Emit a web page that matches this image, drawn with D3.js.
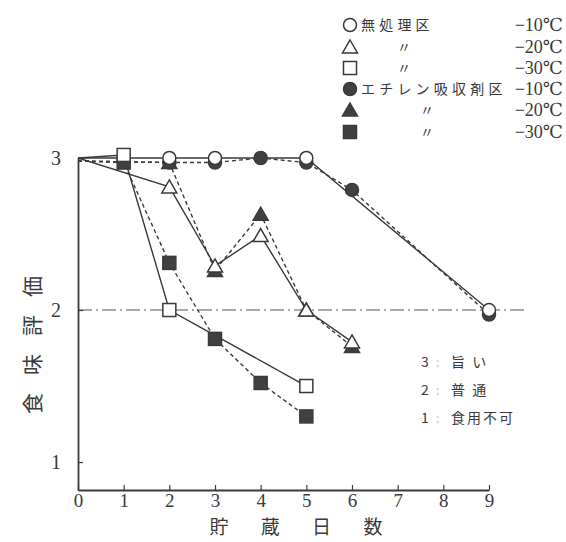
<!DOCTYPE html>
<html><head><meta charset="utf-8">
<script src="https://cdn.jsdelivr.net/npm/d3@7"></script>
<style>body{margin:0;background:#fff}svg{display:block}</style>
</head><body><svg id="c" width="566" height="542"></svg>
<script>
// ---- data ----
const days = [0,1,2,3,4,5,6,7,8,9];
const yTicks = [1,2,3];
const xLabel = "貯 蔵 日 数";
const yLabel = "食味評価";
// untreated (無処理区), solid lines, open markers
const ctrl10 = [[0,3],[2,3],[3,3],[5,3],[9,2]];
const ctrl20 = [[0,3],[2,2.81],[3,2.29],[4,2.49],[5,2.0],[6,1.79]];
const ctrl30 = [[0,3],[1,3.02],[2,2.0],[5,1.5]];
// ethylene absorber (エチレン吸収剤区), dashed lines, filled markers
const eth10 = [[0,2.98],[2,2.97],[3,2.97],[4,3],[5,2.97],[6,2.79],[9,1.97]];
const eth20 = [[0,2.98],[2,2.97],[3,2.26],[4,2.63],[5,2.0],[6,1.76]];
const eth30 = [[0,2.98],[1,2.97],[2,2.31],[3,1.81],[4,1.52],[5,1.3]];
const legendNames = ["無処理区","〃","〃","エチレン吸収剤区","〃","〃"];
const legendTemps = ["−10℃","−20℃","−30℃","−10℃","−20℃","−30℃"];
const ratingNums = ["3","2","1"];
const ratingText = ["旨 い","普 通","食用不可"];
const refLine = 2;

// ---- drawing ----
const svg = d3.select("#c");
const ink = "#3a3a3a";
const x = d3.scaleLinear().domain([0,9]).range([78,489]);
const y = d3.scaleLinear().domain([0.816,3]).range([490,158]);
const serif = "'Liberation Serif','DejaVu Serif',serif";
const jp = "'Noto Sans CJK JP',sans-serif";

// reference dash-dot line
svg.append("line").attr("x1",x(0)).attr("x2",x(9)+38).attr("y1",y(refLine)).attr("y2",y(refLine))
  .attr("stroke","#555").attr("stroke-width",1.2).attr("stroke-dasharray","14,4,2,4");

// axes
const xa = svg.append("g").attr("transform",`translate(0,${y.range()[0]})`)
  .call(d3.axisBottom(x).tickValues(days).tickSizeInner(-5).tickSizeOuter(0).tickPadding(3).tickFormat(d3.format("d")));
xa.selectAll("text").attr("font-family",serif).attr("font-size",19).attr("fill",ink);
const ya = svg.append("g").attr("transform",`translate(${x(0)},0)`)
  .call(d3.axisLeft(y).tickValues(yTicks).tickSizeInner(-5).tickSizeOuter(0).tickPadding(17).tickFormat(d3.format("d")));
ya.selectAll("text").attr("font-family",serif).attr("font-size",20).attr("fill",ink);
svg.selectAll(".domain").attr("stroke",ink).attr("stroke-width",1.8);
svg.selectAll(".tick line").attr("stroke",ink).attr("stroke-width",1.2);

// labels
svg.append("text").attr("x",303).attr("y",534).attr("text-anchor","middle")
  .attr("font-family",jp).attr("font-size",19).attr("fill",ink)
  .attr("style","letter-spacing:14px").text(xLabel);
svg.append("text").attr("transform","translate(40,336) rotate(-90)").attr("text-anchor","middle")
  .attr("font-family",jp).attr("font-size",21).attr("fill",ink)
  .attr("style","letter-spacing:18px").text(yLabel);

const line = d3.line().x(d=>x(d[0])).y(d=>y(d[1]));
function drawLine(data, dashed){
  svg.append("path").datum(data).attr("d",line).attr("fill","none").attr("stroke",ink)
    .attr("stroke-width",1.4).attr("stroke-dasharray",dashed?"4,3":null);
}
function marker(g, type, filled, cx, cy){
  const fill = filled ? "#404040" : "#fff";
  let el;
  if(type==="circle") el = g.append("circle").attr("cx",cx).attr("cy",cy).attr("r",6.5);
  else if(type==="square") el = g.append("rect").attr("x",cx-6.5).attr("y",cy-6.5).attr("width",13).attr("height",13);
  else el = g.append("path").attr("d",`M${cx},${cy-7}L${cx+7.5},${cy+6}L${cx-7.5},${cy+6}Z`);
  el.attr("fill",fill).attr("stroke",ink).attr("stroke-width",1.5);
}
function drawMarkers(data, type, filled){
  const g = svg.append("g");
  data.filter(d=>d[0]>0).forEach(d=>marker(g,type,filled,x(d[0]),y(d[1])));
}
drawLine(eth10,true); drawLine(eth20,true); drawLine(eth30,true);
drawLine(ctrl10,false); drawLine(ctrl20,false); drawLine(ctrl30,false);
drawMarkers(eth10,"circle",true); drawMarkers(eth20,"triangle",true); drawMarkers(eth30,"square",true);
drawMarkers(ctrl10,"circle",false); drawMarkers(ctrl20,"triangle",false); drawMarkers(ctrl30,"square",false);

// legend
const types = ["circle","triangle","square","circle","triangle","square"];
const rowsY = [25,47,68,89,110,132];
const lg = svg.append("g");
legendNames.forEach((n,i)=>{
  marker(lg, types[i], i>=3, 350, rowsY[i]);
  const isMark = n==="〃";
  lg.append("text").attr("x", isMark ? (i<3?397:420) : 361).attr("y",rowsY[i]+5)
    .attr("font-family",jp).attr("font-size",14).attr("fill",ink)
    .attr("style", isMark ? null : "letter-spacing:4.2px").text(n);
  lg.append("text").attr("x",563).attr("y",rowsY[i]+6).attr("text-anchor","end")
    .attr("font-family",serif).attr("font-size",18).attr("fill",ink).text(legendTemps[i]);
});

// rating note
const ry = [362,390,418];
ratingNums.forEach((n,i)=>{
  svg.append("text").attr("x",421).attr("y",ry[i]+5).attr("font-family",jp).attr("font-size",14).attr("fill",ink).text(n);
  svg.append("text").attr("x",436).attr("y",ry[i]+5).attr("font-family",jp).attr("font-size",12).attr("fill","#bbb").text(":");
  svg.append("text").attr("x",451).attr("y",ry[i]+5).attr("font-family",jp).attr("font-size",14).attr("fill",ink)
    .attr("style","letter-spacing:2px").text(ratingText[i]);
});
</script></body></html>
